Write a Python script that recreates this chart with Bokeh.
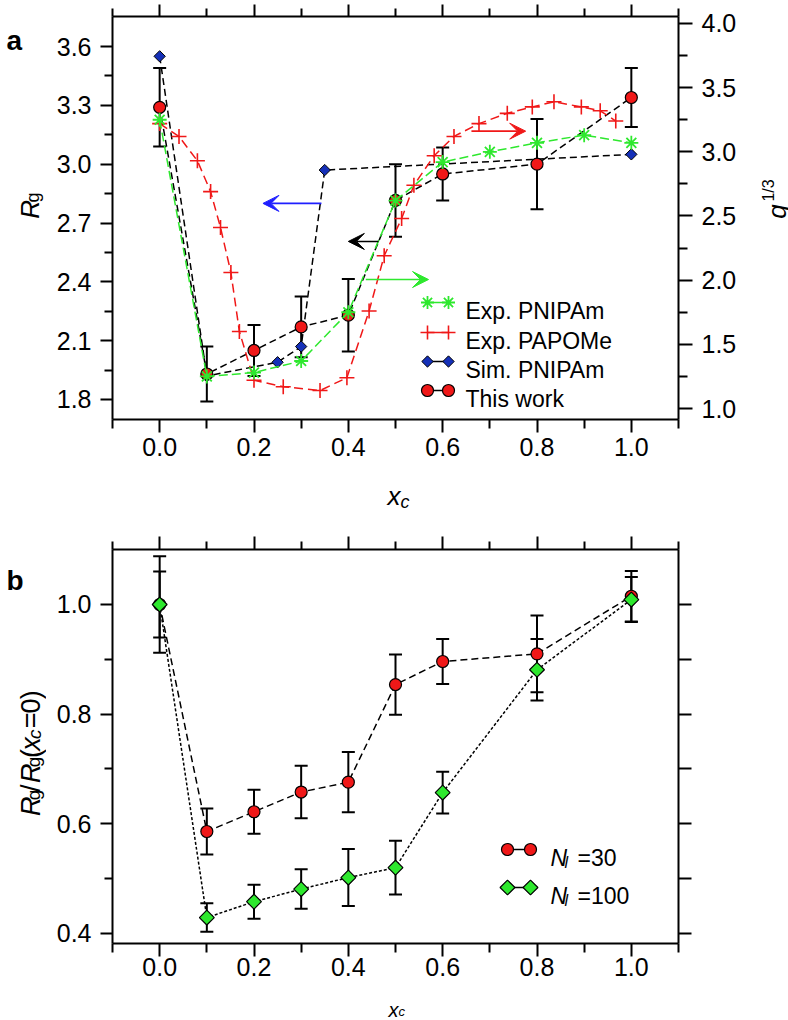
import math
from bokeh.plotting import figure
from bokeh.models import (Range1d, LinearAxis, FixedTicker, PrintfTickFormatter, Whisker,
                          TeeHead, ColumnDataSource, Arrow, VeeHead, Label)
from bokeh.layouts import column, row
from bokeh.embed import file_html
from bokeh.resources import INLINE

FONT = "Liberation Sans"
RED = "#f01818"
GREEN = "#2ee82e"
BLUE = "#1530b8"

# ---------------- panel a data ----------------
xc_this = [0.0, 0.1, 0.2, 0.3, 0.4, 0.5, 0.6, 0.8, 1.0]
rg_this = [3.29, 1.93, 2.05, 2.17, 2.23, 2.815, 2.95, 3.00, 3.34]
rg_this_err = [0.20, 0.14, 0.13, 0.155, 0.185, 0.185, 0.135, 0.23, 0.15]

xc_sim = [0.0, 0.1, 0.25, 0.3, 0.35, 1.0]
rg_sim = [3.55, 1.92, 1.99, 2.07, 2.97, 3.05]

xc_pnipam = [0.0, 0.1, 0.2, 0.3, 0.4, 0.5, 0.6, 0.7, 0.8, 0.9, 1.0]
q_pnipam = [3.25, 1.25, 1.28, 1.37, 1.75, 2.62, 2.92, 3.00, 3.07, 3.13, 3.07]

xc_papome = [0.0, 0.041, 0.08, 0.108, 0.129, 0.151, 0.169, 0.2, 0.262, 0.34, 0.397, 0.444,
             0.476, 0.513, 0.539, 0.582, 0.624, 0.677, 0.737, 0.79, 0.836, 0.894, 0.934, 0.967]
q_papome = [3.22, 3.12, 2.93, 2.69, 2.41, 2.06, 1.60, 1.22, 1.17, 1.14, 1.24, 1.76,
            2.19, 2.48, 2.74, 2.97, 3.12, 3.22, 3.30, 3.35, 3.39, 3.35, 3.32, 3.24]

legend_a = ["Exp. PNIPAm", "Exp. PAPOMe", "Sim. PNIPAm", "This work"]

arrow_x_start = [0.343, 0.464, 0.437, 0.661]
arrow_x_end = [0.219, 0.400, 0.570, 0.776]
arrow_y = [2.80, 2.606, 2.005, 3.161]
arrow_axis = ["default", "default", "q", "q"]
arrow_color = ["#1f1fff", "black", GREEN, RED]

x_ticks = [0.0, 0.2, 0.4, 0.6, 0.8, 1.0]
x_minor = [-0.1, 0.1, 0.3, 0.5, 0.7, 0.9, 1.1]
rg_ticks = [1.8, 2.1, 2.4, 2.7, 3.0, 3.3, 3.6]
rg_minor = [1.95, 2.25, 2.55, 2.85, 3.15, 3.45]
q_ticks = [1.0, 1.5, 2.0, 2.5, 3.0, 3.5, 4.0]
q_minor = [1.25, 1.75, 2.25, 2.75, 3.25, 3.75]

# ---------------- panel b data ----------------
xc_b = [0.0, 0.1, 0.2, 0.3, 0.4, 0.5, 0.6, 0.8, 1.0]
ratio_n30 = [1.0, 0.586, 0.622, 0.658, 0.676, 0.854, 0.896, 0.910, 1.015]
ratio_n30_err = [0.06, 0.042, 0.040, 0.048, 0.055, 0.055, 0.041, 0.07, 0.046]
ratio_n100 = [1.0, 0.429, 0.458, 0.481, 0.502, 0.520, 0.657, 0.881, 1.009]
ratio_n100_err = [0.088, 0.026, 0.031, 0.036, 0.052, 0.049, 0.038, 0.056, 0.041]
legend_b = ["=30", "=100"]
ratio_ticks = [0.4, 0.6, 0.8, 1.0]
ratio_minor = [0.5, 0.7, 0.9]
ratio_right_ticks = [0.4, 0.5, 0.6, 0.7, 0.8, 0.9, 1.0]

# ---------------- layout (page pixels, origin = top-left of page) ----------------
LEFT_W, MID_W, RIGHT_W = 46, 700, 42
FULL_W = LEFT_W + MID_W + RIGHT_W
MID_X0 = LEFT_W
RX0 = LEFT_W + MID_W
FRAME_L, FRAME_R = 112, 678
A_Y0, A_H = 0, 466
XA_Y0, XA_H = 466, 44
B_Y0, B_H = 510, 476
XB_Y0, XB_H = 986, 33
A_TOP, A_BOT = 16, 419
B_TOP, B_BOT = 549, 943
X_RANGE = (-0.1, 1.1)
RG_RANGE = (1.698, 3.753)
Q_RANGE = (0.9143, 4.0545)
RATIO_RANGE = (0.38176, 1.1003)
TICK_FS = "25px"


def make_conv(top, bot, yr):
    def conv(px, py):
        x = X_RANGE[0] + (px - FRAME_L) / (FRAME_R - FRAME_L) * (X_RANGE[1] - X_RANGE[0])
        y = yr[0] + (bot - py) / (bot - top) * (yr[1] - yr[0])
        return x, y
    return conv


def label_in(p, txt, size, style, x, y, angle=0.0):
    p.add_layout(Label(x=x, y=y, text=txt, angle=angle, text_font=FONT,
                       text_font_size=f"{size}px", text_font_style=style, text_color="black",
                       text_align="left", text_baseline="alphabetic"))


def make_fig(y0, height, yr, top, bot):
    p = figure(width=MID_W, height=height, x_range=Range1d(*X_RANGE), y_range=Range1d(*yr),
               output_backend="svg", toolbar_location=None, x_axis_type=None, y_axis_type=None,
               min_border_left=FRAME_L - MID_X0, min_border_right=RX0 - FRAME_R,
               min_border_top=top - y0, min_border_bottom=y0 + height - bot)
    p.outline_line_color = None
    p.background_fill_color = "white"
    p.border_fill_color = "white"
    return p


def make_strip(w, h):
    s = figure(width=w, height=h, x_range=Range1d(0, w), y_range=Range1d(0, h),
               output_backend="svg", toolbar_location=None, x_axis_type=None, y_axis_type=None,
               min_border=0)
    s.min_border_left = 0
    s.min_border_right = 0
    s.min_border_top = 0
    s.min_border_bottom = 0
    s.outline_line_color = None
    s.background_fill_color = "white"
    s.border_fill_color = "white"
    return s


def put(s, x0, y0, h, txt, size, style, px, py, rotate=False):
    """text whose baseline starts at page position (px, py); strip origin at (x0, y0)"""
    label_in(s, txt, size, style, px - x0, h - (py - y0), math.pi / 2 if rotate else 0.0)


def add_axis(p, side, ticks, minor, major_out, minor_out, labels, y_range_name=None, standoff=9):
    ax = LinearAxis(ticker=FixedTicker(ticks=ticks, minor_ticks=minor),
                    formatter=PrintfTickFormatter(format="%.1f"))
    if y_range_name:
        ax.y_range_name = y_range_name
    ax.axis_line_width = 2
    ax.axis_line_color = "black"
    ax.major_tick_line_width = 2
    ax.minor_tick_line_width = 2
    ax.major_tick_in = 0
    ax.minor_tick_in = 0
    ax.major_tick_out = major_out
    ax.minor_tick_out = minor_out
    ax.major_label_text_font = FONT
    ax.major_label_text_color = "black"
    if labels:
        ax.major_label_text_font_size = TICK_FS
        ax.major_label_standoff = standoff
    else:
        ax.major_label_overrides = {t: "" for t in ticks}
        ax.major_label_text_font_size = "0px"
        ax.major_label_text_alpha = 0
        ax.major_label_standoff = 0
    p.add_layout(ax, side)


def whiskers(p, xs, vals, errs):
    src = ColumnDataSource(dict(x=xs, lo=[v - e for v, e in zip(vals, errs)],
                                hi=[v + e for v, e in zip(vals, errs)]))
    p.add_layout(Whisker(source=src, base="x", lower="lo", upper="hi", line_width=2,
                         line_color="black",
                         lower_head=TeeHead(size=13, line_width=2, line_color="black"),
                         upper_head=TeeHead(size=13, line_width=2, line_color="black")))


# ================= panel a =================
p1 = make_fig(A_Y0, A_H, RG_RANGE, A_TOP, A_BOT)
p1.extra_y_ranges = {"q": Range1d(*Q_RANGE)}
conv1 = make_conv(A_TOP, A_BOT, RG_RANGE)

add_axis(p1, "below", x_ticks, x_minor, 13, 9, True, standoff=5)
add_axis(p1, "above", x_ticks, x_minor, 12, 8, False)
add_axis(p1, "left", rg_ticks, rg_minor, 12, 8, True)
add_axis(p1, "right", q_ticks, q_minor, 14, 9, True, y_range_name="q")

p1.line(xc_this, rg_this, line_color="black", line_dash="7 4", line_width=1.5)
p1.line(xc_sim, rg_sim, line_color="black", line_dash="7 4", line_width=1.5)
whiskers(p1, xc_this, rg_this, rg_this_err)
p1.scatter(xc_sim, rg_sim, marker="square", angle=math.pi / 4, size=8, fill_color=BLUE,
           line_color="black", line_width=1)
p1.scatter(xc_this, rg_this, marker="circle", size=12, fill_color=RED, line_color="black",
           line_width=1.2)
p1.line(xc_papome, q_papome, y_range_name="q", line_color=RED, line_dash="9 5", line_width=1.5)
p1.scatter(xc_papome, q_papome, y_range_name="q", marker="cross", size=15, line_color=RED,
           line_width=1.6)
p1.line(xc_pnipam, q_pnipam, y_range_name="q", line_color=GREEN, line_dash="9 4", line_width=1.5)
p1.scatter(xc_pnipam, q_pnipam, y_range_name="q", marker="asterisk", size=14, line_color=GREEN,
           line_width=1.8)

for xs, xe, yv, ax_name, col in zip(arrow_x_start, arrow_x_end, arrow_y, arrow_axis, arrow_color):
    p1.add_layout(Arrow(x_start=xs, y_start=yv, x_end=xe, y_end=yv, y_range_name=ax_name,
                        line_color=col, line_width=1.6,
                        end=VeeHead(size=16, line_color=col, fill_color=col, fill_alpha=1.0,
                                    line_width=1)))

leg_rows_a = [302, 332, 361, 390]
leg_styles_a = [
    (dict(marker="asterisk", size=13, line_color=GREEN, line_width=1.8), GREEN),
    (dict(marker="cross", size=14, line_color=RED, line_width=1.6), RED),
    (dict(marker="square", angle=math.pi / 4, size=8, fill_color=BLUE, line_color="black",
          line_width=1), "black"),
    (dict(marker="circle", size=12, fill_color=RED, line_color="black", line_width=1.2), "black"),
]
for rw, name, (st, segc) in zip(leg_rows_a, legend_a, leg_styles_a):
    x0, y0 = conv1(427, rw)
    x1, _ = conv1(448, rw)
    p1.segment(x0=[x0], y0=[y0], x1=[x1], y1=[y0], line_color=segc, line_width=1.5)
    p1.scatter([x0, x1], [y0, y0], **st)
    tx, ty = conv1(465, rw + 8)
    label_in(p1, name, 23, "normal", tx, ty)

# ================= panel b =================
p2 = make_fig(B_Y0, B_H, RATIO_RANGE, B_TOP, B_BOT)
conv2 = make_conv(B_TOP, B_BOT, RATIO_RANGE)

add_axis(p2, "below", x_ticks, x_minor, 13, 9, True, standoff=1)
add_axis(p2, "above", x_ticks, x_minor, 13, 8, False)
add_axis(p2, "left", ratio_ticks, ratio_minor, 12, 8, True)
add_axis(p2, "right", ratio_right_ticks, [], 13, 8, False)

p2.line(xc_b, ratio_n30, line_color="black", line_dash="7 4", line_width=1.5)
p2.line(xc_b, ratio_n100, line_color="black", line_dash="3 2", line_width=1.5)
whiskers(p2, xc_b, ratio_n30, ratio_n30_err)
whiskers(p2, xc_b, ratio_n100, ratio_n100_err)
p2.scatter(xc_b, ratio_n30, marker="circle", size=12, fill_color=RED, line_color="black",
           line_width=1.2)
p2.scatter(xc_b, ratio_n100, marker="square", angle=math.pi / 4, size=10.5, fill_color=GREEN,
           line_color="black", line_width=1.2)

leg_rows_b = [849, 887]
leg_styles_b = [
    dict(marker="circle", size=12, fill_color=RED, line_color="black", line_width=1.2),
    dict(marker="square", angle=math.pi / 4, size=10.5, fill_color=GREEN, line_color="black",
         line_width=1.2),
]
for rw, name, st in zip(leg_rows_b, legend_b, leg_styles_b):
    x0, y0 = conv2(507, rw)
    x1, _ = conv2(530, rw)
    p2.segment(x0=[x0], y0=[y0], x1=[x1], y1=[y0], line_color="black", line_width=1.5)
    p2.scatter([x0, x1], [y0, y0], **st)
    for txt, size, style, px, dy in (("N", 23, "italic", 550, 0), ("l", 16, "italic", 564, 5),
                                     (name, 23, "normal", 577, 0)):
        tx, ty = conv2(px, rw + 8 + dy)
        label_in(p2, txt, size, style, tx, ty)

# ================= text strips =================
leftA = make_strip(LEFT_W, A_H)
put(leftA, 0, A_Y0, A_H, "a", 28, "bold", 6, 28)
put(leftA, 0, A_Y0, A_H, "R", 26, "italic", 29, 234, rotate=True)
put(leftA, 0, A_Y0, A_H, "g", 18, "normal", 32, 215, rotate=True)

rightA = make_strip(RIGHT_W, A_H)
put(rightA, RX0, A_Y0, A_H, "q", 26, "italic", 776, 234, rotate=True)
put(rightA, RX0, A_Y0, A_H, "1/3", 16, "normal", 768, 214, rotate=True)

xlabA = make_strip(FULL_W, XA_H)
put(xlabA, 0, XA_Y0, XA_H, "x", 26, "italic", 387, 495)
put(xlabA, 0, XA_Y0, XA_H, "c", 18, "italic", 400, 501)

leftB = make_strip(LEFT_W, B_H)
put(leftB, 0, B_Y0, B_H, "b", 28, "bold", 6, 547)
ylab_b_pieces = [("R", 27, "italic", 0, 832), ("g", 19, "normal", 3, 813), ("/", 27, "normal", 0, 803),
                 ("R", 27, "italic", 0, 792), ("g", 19, "normal", 3, 773), ("(", 27, "normal", 0, 762),
                 ("x", 27, "italic", 0, 753), ("c", 19, "italic", 4, 739), ("=", 27, "normal", 0, 726),
                 ("0", 27, "normal", 0, 708), (")", 27, "normal", 0, 691)]
for txt, size, style, shift, py in ylab_b_pieces:
    put(leftB, 0, B_Y0, B_H, txt, size, style, 30 + shift, py, rotate=True)

rightB = make_strip(RIGHT_W, B_H)

xlabB = make_strip(FULL_W, XB_H)
put(xlabB, 0, XB_Y0, XB_H, "x", 20, "italic", 388, 1009.4)
put(xlabB, 0, XB_Y0, XB_H, "c", 13, "italic", 398, 1011)

layout = column(row(leftA, p1, rightA), xlabA, row(leftB, p2, rightB), xlabB)
open("out.html", "w").write(file_html(layout, INLINE))
